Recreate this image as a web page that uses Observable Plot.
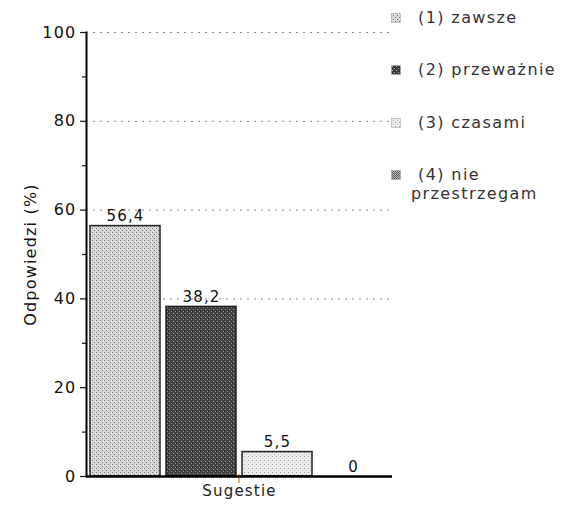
<!DOCTYPE html>
<html><head><meta charset="utf-8">
<script src="https://cdn.jsdelivr.net/npm/d3@7"></script>
<script src="https://cdn.jsdelivr.net/npm/@observablehq/plot@0.6"></script>
<style>
body{margin:0;background:#fff;font-family:"DejaVu Sans",Verdana,sans-serif;}
#wrap{position:relative;width:566px;height:507px;overflow:hidden;}
#defs{position:absolute;left:0;top:0;width:0;height:0;}
.li{position:absolute;left:391px;font-size:16px;letter-spacing:1.4px;color:#333;line-height:19px;}
.li svg{position:absolute;left:0;top:5px;}
.li span{position:absolute;left:27px;top:0;white-space:nowrap;}
</style></head><body>
<svg id="defs" width="0" height="0">
<defs>
<pattern id="p1" width="4" height="4" patternUnits="userSpaceOnUse"><rect width="4" height="4" fill="#d6d6d6"/><rect x="0" y="0" width="1" height="1" fill="#777"/><rect x="2" y="2" width="1" height="1" fill="#777"/><rect x="3" y="1" width="1" height="1" fill="#f4f4f4"/></pattern>
<pattern id="p2" width="4" height="4" patternUnits="userSpaceOnUse"><rect width="4" height="4" fill="#404040"/><rect x="1" y="1" width="1" height="1" fill="#b0b0b0"/><rect x="3" y="3" width="1" height="1" fill="#999"/><rect x="0" y="2" width="1" height="1" fill="#222"/></pattern>
<pattern id="p3" width="4" height="4" patternUnits="userSpaceOnUse"><rect width="4" height="4" fill="#ececec"/><rect x="0" y="0" width="1" height="1" fill="#999"/><rect x="2" y="2" width="1" height="1" fill="#bbb"/></pattern>
<pattern id="p4" width="2" height="2" patternUnits="userSpaceOnUse"><rect width="2" height="2" fill="#555"/><rect x="0" y="0" width="1" height="1" fill="#bbb"/><rect x="1" y="1" width="1" height="1" fill="#bbb"/></pattern>
</defs></svg>
<div id="wrap"></div>
<script>
const categories = ["(1) zawsze", "(2) przeważnie", "(3) czasami", "(4) nie przestrzegam"];
const legendLines = [["(1) zawsze"], ["(2) przeważnie"], ["(3) czasami"], ["(4) nie", "przestrzegam"]];
const values = [56.4, 38.2, 5.5, 0];
const valueLabels = ["56,4", "38,2", "5,5", "0"];
const yTicks = [0, 20, 40, 60, 80, 100];
const yMinorTicks = [10, 30, 50, 70, 90];
const gridTicks = [40, 60, 80, 100];
const xTitle = "Sugestie";
const yTitle = "Odpowiedzi (%)";
const patternFills = ["url(#p1)", "url(#p2)", "url(#p3)", "url(#p4)"];

const data = categories.map((c, i) => ({category: c, value: values[i], label: valueLabels[i]}));

const chart = Plot.plot({
  width: 566,
  height: 507,
  marginLeft: 86,
  marginRight: 174,
  marginTop: 32,
  marginBottom: 31,
  style: {fontFamily: "'DejaVu Sans', Verdana, sans-serif", fontSize: "15px", color: "#111", background: "#fff", letterSpacing: "1.2px"},
  x: {domain: categories, paddingInner: 0.08, paddingOuter: 0.053, axis: null},
  y: {domain: [0, 100], label: null},
  color: {domain: categories, range: patternFills},
  marks: [
    Plot.gridY(gridTicks, {stroke: "#666", strokeOpacity: 0.8, strokeDasharray: "2,5"}),
    Plot.barY(data, {x: "category", y: "value", fill: "category", stroke: "#222", strokeWidth: 1.5}),
    Plot.text(data, {x: "category", y: "value", text: "label", lineAnchor: "bottom", dy: -5, fontSize: 15, fill: "#111"}),
    Plot.axisY(yMinorTicks, {tickSize: 4, tickFormat: () => "", label: null, strokeWidth: 1.2}),
    Plot.axisY(yTicks, {tickSize: 6, tickPadding: 4, fontSize: 16, label: yTitle, labelAnchor: "center", labelOffset: 62, labelArrow: "none", strokeWidth: 1.2}),
    Plot.frame({anchor: "left", stroke: "#000", strokeWidth: 2}),
    Plot.ruleY([0], {stroke: "#000", strokeWidth: 2.5}),
    Plot.text([xTitle], {frameAnchor: "bottom", lineAnchor: "top", dy: 9, fontSize: 15, fill: "#222"}),
    Plot.text(["|"], {frameAnchor: "bottom", lineAnchor: "top", dy: -1, fontSize: 8, fill: "#222"})
  ]
});
const wrap = document.getElementById("wrap");
wrap.appendChild(chart);

const legendTops = [8, 60, 113, 165];
legendLines.forEach((lines, i) => {
  const d = document.createElement("div");
  d.className = "li";
  d.style.top = legendTops[i] + "px";
  d.innerHTML = `<svg width="10" height="10"><rect x="0.5" y="0.5" width="9" height="9" fill="${patternFills[i]}" stroke="#999" stroke-width="0.5"/></svg>` +
    `<span>${lines[0]}</span>` + (lines[1] ? `<span style="top:19px;left:20px">${lines[1]}</span>` : "");
  wrap.appendChild(d);
});
</script>
</body></html>
